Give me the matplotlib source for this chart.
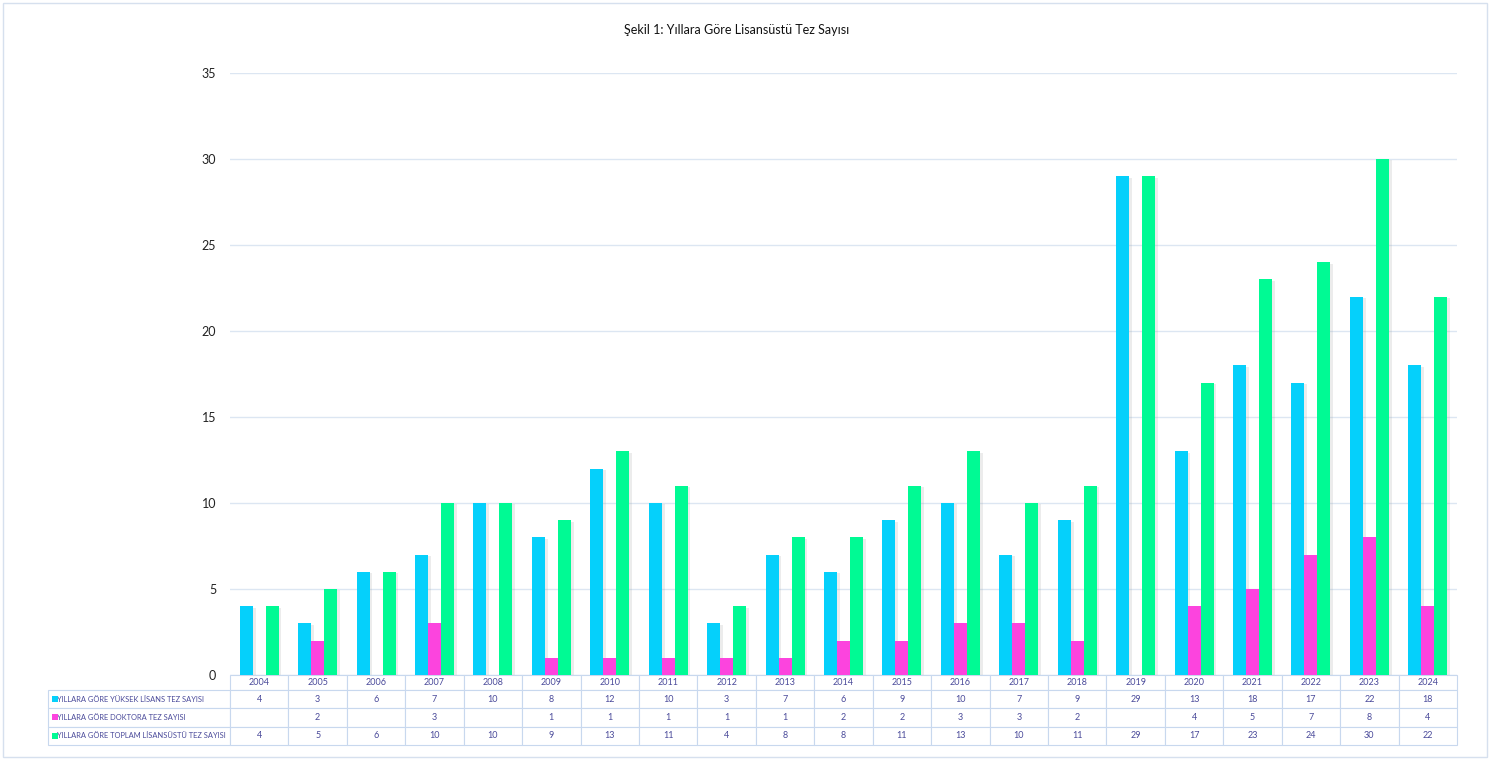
import numpy as np
import matplotlib.pyplot as plt
import matplotlib.patheffects as pe
from matplotlib.patches import Rectangle
from matplotlib.table import Table

plt.rcParams['font.family'] = ['Lato', 'DejaVu Sans']

years = [str(y) for y in range(2004, 2025)]
yuksek_lisans = [4, 3, 6, 7, 10, 8, 12, 10, 3, 7, 6, 9, 10, 7, 9, 29, 13, 18, 17, 22, 18]
doktora = [None, 2, None, 3, None, 1, 1, 1, 1, 1, 2, 2, 3, 3, 2, None, 4, 5, 7, 8, 4]
toplam = [4, 5, 6, 10, 10, 9, 13, 11, 4, 8, 8, 11, 13, 10, 11, 29, 17, 23, 24, 30, 22]

series_names = ['YILLARA GÖRE YÜKSEK LİSANS TEZ SAYISI',
                'YILLARA GÖRE DOKTORA TEZ SAYISI',
                'YILLARA GÖRE TOPLAM LİSANSÜSTÜ TEZ SAYISI']
colors = ['#05D0FB', '#FC44DE', '#00FA94']
text_col = '#4A4A9A'
grid_col = '#DCE6F2'

W, H = 1499, 759
AX_W, AX_H = 1227, 602
fig = plt.figure(figsize=(W / 100, H / 100), dpi=100)
ax = fig.add_axes([230 / W, 1 - 675 / H, AX_W / W, AX_H / H])

x = np.arange(len(years))
width = 0.222
shadow = [pe.SimplePatchShadow(offset=(2, -1), shadow_rgbFace='#999999', alpha=0.18), pe.Normal()]
for i, vals in enumerate([yuksek_lisans, doktora, toplam]):
    xs = [xi + (i - 1) * width for xi, v in zip(x, vals) if v is not None]
    hs = [v for v in vals if v is not None]
    bars = ax.bar(xs, hs, width, color=colors[i], zorder=3)
    for b in bars:
        b.set_path_effects(shadow)

ax.set_xlim(-0.5, len(years) - 0.5)
ax.set_ylim(0, 35)
ax.set_yticks(range(0, 36, 5))
ax.set_xticks([])
ax.tick_params(axis='y', length=0, labelsize=9, pad=10)
for lab in ax.get_yticklabels():
    lab.set_color('#222222')
ax.grid(axis='y', color=grid_col, linewidth=1)
ax.set_axisbelow(True)
for s in ax.spines.values():
    s.set_visible(False)

# data table under the bars (sizes in axes fractions)
label_w = 182 / AX_W
col_w = 1 / len(years)
head_h = 15 / AX_H
row_h = 18.3 / AX_H
tbl = Table(ax, bbox=[0, -(head_h + 3 * row_h), 1, head_h + 3 * row_h])
for c, yr in enumerate(years):
    tbl.add_cell(0, c, width=col_w, height=head_h, text=yr, loc='center')
for r, vals in enumerate([yuksek_lisans, doktora, toplam], start=1):
    tbl.add_cell(r, -1, width=label_w, height=row_h, text=series_names[r - 1], loc='left')
    for c, v in enumerate(vals):
        tbl.add_cell(r, c, width=col_w, height=row_h, text='' if v is None else str(v), loc='center')
tbl.auto_set_font_size(False)
for (r, c), cell in tbl.get_celld().items():
    cell.set_edgecolor('#C8D8EE')
    cell.set_linewidth(0.8)
    cell.get_text().set_color(text_col)
    if c == -1:
        cell.PAD = 0.05
        cell.get_text().set_fontsize(5.4)
    else:
        cell.PAD = 0.02
        cell.get_text().set_fontsize(6.5)
tbl.set_clip_on(False)
ax.add_table(tbl)

# legend keys in row labels
for i in range(3):
    ycen = 1 - (675 + 15 + (i + 0.5) * 18.3) / H
    fig.patches.append(Rectangle((52 / W, ycen - 3 / H), 6 / W, 6 / H, transform=fig.transFigure,
                                 facecolor=colors[i], edgecolor='none'))

fig.text(737 / W, 1 - 30 / H, 'Şekil 1: Yıllara Göre Lisansüstü Tez Sayısı', ha='center', va='center',
         fontsize=9, color='#111111')

fig.patches.append(Rectangle((3 / W, 2 / H), 1484 / W, 754 / H, transform=fig.transFigure,
                             facecolor='none', edgecolor='#D6E0EE', linewidth=1))

fig.savefig('out.png', dpi=100)
